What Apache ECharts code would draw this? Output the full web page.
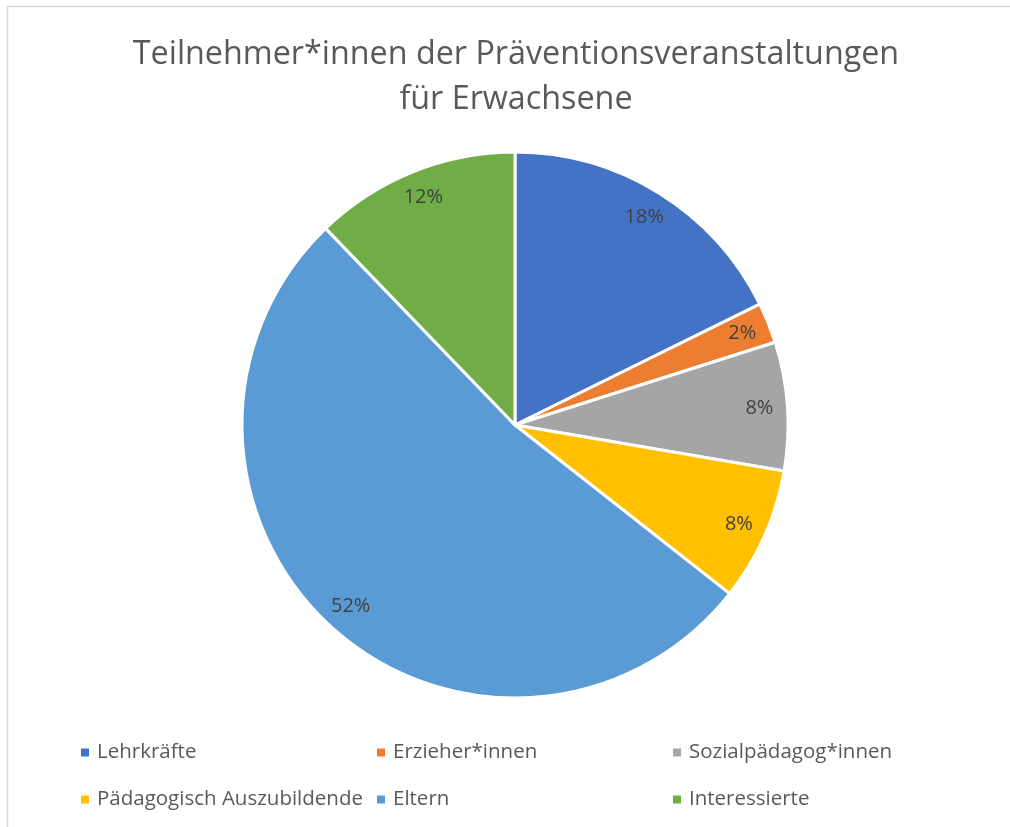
<!DOCTYPE html>
<html>
<head>
<meta charset="utf-8">
<script src="https://cdn.jsdelivr.net/npm/echarts@6/dist/echarts.min.js"></script>
<style>
html,body{margin:0;padding:0;background:#fff;}
#main{width:1010px;height:827px;}
</style>
</head>
<body>
<div id="main"></div>
<script>
// Daten
var categories = ['Lehrkräfte', 'Erzieher*innen', 'Sozialpädagog*innen', 'Pädagogisch Auszubildende', 'Eltern', 'Interessierte'];
var values = [17.7, 2.4, 7.6, 7.9, 52.2, 12.2];
var colors = ['#4472C4', '#ED7D31', '#A5A5A5', '#FFC000', '#5B9BD5', '#70AD47'];

var fontFam = 'Open Sans, Noto Sans, sans-serif';
var pieData = categories.map(function (name, i) {
    return {name: name, value: values[i], itemStyle: {color: colors[i]}};
});

var myChart = echarts.init(document.getElementById('main'));

// Legende in drei Spalten
var legendCols = [[0, 3], [1, 4], [2, 5]];
var legendLeft = [74, 370, 666];
var legends = legendCols.map(function (col, k) {
    return {
        orient: 'vertical',
        left: legendLeft[k],
        top: 737,
        itemWidth: 10,
        itemHeight: 10,
        itemGap: 26,
        icon: 'rect',
        data: col.map(function (i) { return categories[i]; }),
        textStyle: {color: '#595959', fontSize: 20.5, fontFamily: fontFam, padding: [0, 0, 0, 2]}
    };
});

var option = {
    animation: false,
    color: colors,
    title: {
        text: 'Teilnehmer*innen der Präventionsveranstaltungen\nfür Erwachsene',
        left: 511,
        top: 27,
        textAlign: 'center',
        textStyle: {
            color: '#595959',
            fontSize: 32.3,
            fontWeight: 'normal',
            fontFamily: fontFam,
            lineHeight: 45
        }
    },
    graphic: [{
        type: 'rect',
        shape: {x: 7.5, y: 6.5, width: 1020, height: 840},
        style: {fill: 'none', stroke: '#d9d9d9', lineWidth: 1.5},
        silent: true
    }],
    legend: legends,
    series: [
        {
            type: 'pie',
            center: [515, 425],
            radius: [0, 273],
            startAngle: 90,
            clockwise: true,
            label: {show: false},
            labelLine: {show: false},
            itemStyle: {borderColor: '#fff', borderWidth: 3},
            emphasis: {disabled: true},
            data: pieData
        },
        {
            // unsichtbarer Ring nur für die Beschriftung
            type: 'pie',
            center: [515, 425],
            radius: [211, 273],
            startAngle: 90,
            clockwise: true,
            silent: true,
            legendHoverLink: false,
            itemStyle: {color: 'rgba(0,0,0,0)', borderWidth: 0},
            label: {
                show: true,
                position: 'inside',
                formatter: '{d}%',
                color: '#404040',
                fontSize: 20,
                fontFamily: fontFam
            },
            percentPrecision: 0,
            labelLine: {show: false},
            emphasis: {disabled: true},
            data: categories.map(function (name, i) {
                return {name: name + ' ', value: values[i]};
            })
        }
    ]
};
myChart.setOption(option);
</script>
</body>
</html>
